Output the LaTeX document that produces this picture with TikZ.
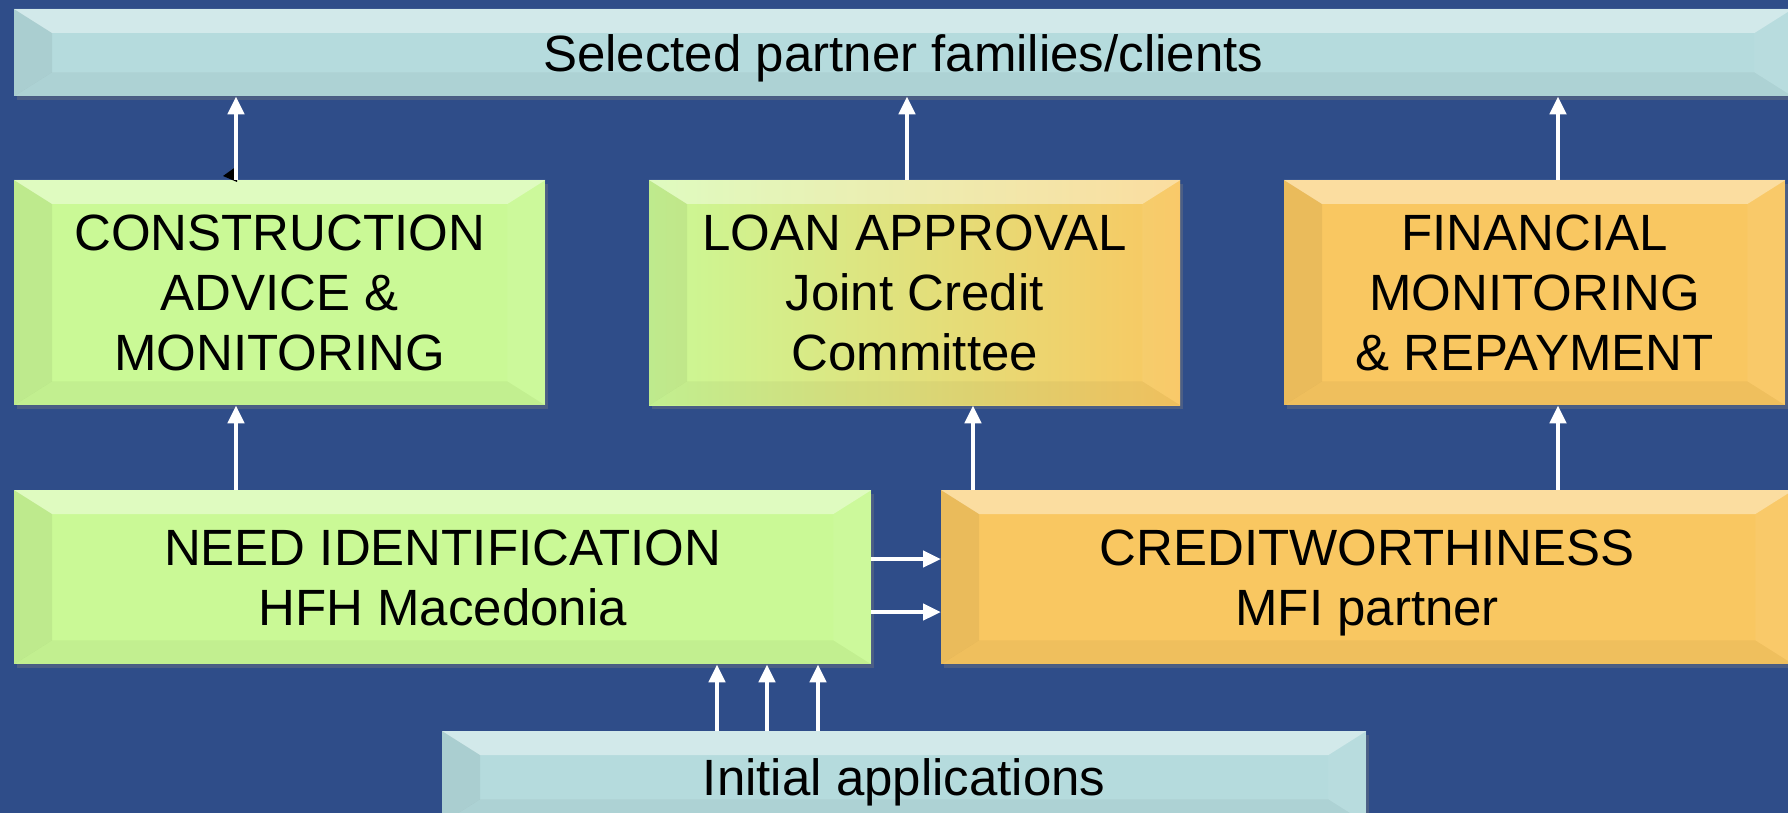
\documentclass[tikz,border=0pt]{standalone}
\usepackage{fontspec}
\setmainfont{Liberation Sans}
\usetikzlibrary{arrows.meta,shadows}

\definecolor{bgblue}{RGB}{47,77,137}
\definecolor{boxgreen}{RGB}{202,249,150}
\definecolor{boxorange}{RGB}{249,199,97}
\definecolor{boxcyan}{RGB}{181,219,221}

\tikzset{
    box/.style={anchor=north west, inner sep=0pt, align=center, text depth=0pt,
        font=\fontsize{51}{60}\selectfont,
        drop shadow={shadow xshift=3pt, shadow yshift=-4pt, opacity=.35}},
    arr/.style={white, line width=4.5pt, -{Triangle[length=18pt,width=16pt]}}
}

\begin{document}
\begin{tikzpicture}[x=1pt,y=-1pt]
    \path[use as bounding box, fill=bgblue] (0,0) rectangle (1788,813);

    \node[box, fill=boxcyan, minimum width=1778pt, minimum height=87pt] (sel) at (14,9) {Selected partner families/clients};
    \node[box, fill=boxgreen, minimum width=531pt, minimum height=225pt] (cons) at (14,180) {CONSTRUCTION\\ADVICE \&\\MONITORING};
    \node[box, left color=boxgreen, right color=boxorange, minimum width=531pt, minimum height=225pt] (loan) at (649,180) {LOAN APPROVAL\\Joint Credit\\Committee};
    \node[box, fill=boxorange, minimum width=501pt, minimum height=225pt] (fin) at (1284,180) {FINANCIAL\\MONITORING\\ \& REPAYMENT};
    \node[box, fill=boxgreen, minimum width=857pt, minimum height=174pt] (need) at (14,490) {NEED IDENTIFICATION\\HFH Macedonia};
    \node[box, fill=boxorange, minimum width=852pt, minimum height=174pt] (cred) at (941,490) {CREDITWORTHINESS\\MFI partner};
    \node[box, fill=boxcyan, minimum width=924pt, minimum height=92pt] (init) at (442,731) {Initial applications};

    % bevelled edges
    \foreach \n in {sel,cons,loan,fin,need,cred,init} {
        \fill[white,opacity=.4] (\n.north west) -- (\n.north east) -- ([shift={(-38pt,-24pt)}]\n.north east) -- ([shift={(38pt,-24pt)}]\n.north west) -- cycle;
        \fill[black,opacity=.06] (\n.north west) -- ([shift={(38pt,-24pt)}]\n.north west) -- ([shift={(38pt,24pt)}]\n.south west) -- (\n.south west) -- cycle;
        \fill[white,opacity=.05] (\n.north east) -- ([shift={(-38pt,-24pt)}]\n.north east) -- ([shift={(-38pt,24pt)}]\n.south east) -- (\n.south east) -- cycle;
        \fill[black,opacity=.04] (\n.south west) -- ([shift={(38pt,24pt)}]\n.south west) -- ([shift={(-38pt,24pt)}]\n.south east) -- (\n.south east) -- cycle;
    }

    \fill[black] (237,166) -- (223,176) -- (237,182) -- cycle;

    \draw[arr] ([xshift=222pt]cons.north west) -- ([xshift=222pt]cons.north west |- sel.south);
    \draw[arr] ([xshift=258pt]loan.north west) -- ([xshift=258pt]loan.north west |- sel.south);
    \draw[arr] ([xshift=274pt]fin.north west) -- ([xshift=274pt]fin.north west |- sel.south);

    \draw[arr] ([xshift=222pt]need.north west) -- ([xshift=222pt]need.north west |- cons.south);
    \draw[arr] ([xshift=32pt]cred.north west) -- ([xshift=32pt]cred.north west |- loan.south);
    \draw[arr] ([xshift=617pt]cred.north west) -- ([xshift=617pt]cred.north west |- fin.south);

    \draw[arr] ([yshift=-69pt]need.north east) -- ([yshift=-69pt]need.north east -| cred.west);
    \draw[arr] ([yshift=-122pt]need.north east) -- ([yshift=-122pt]need.north east -| cred.west);

    \foreach \dx in {275,325,376}
        \draw[arr] ([xshift=\dx pt]init.north west) -- ([xshift=\dx pt]init.north west |- need.south);
\end{tikzpicture}
\end{document}
